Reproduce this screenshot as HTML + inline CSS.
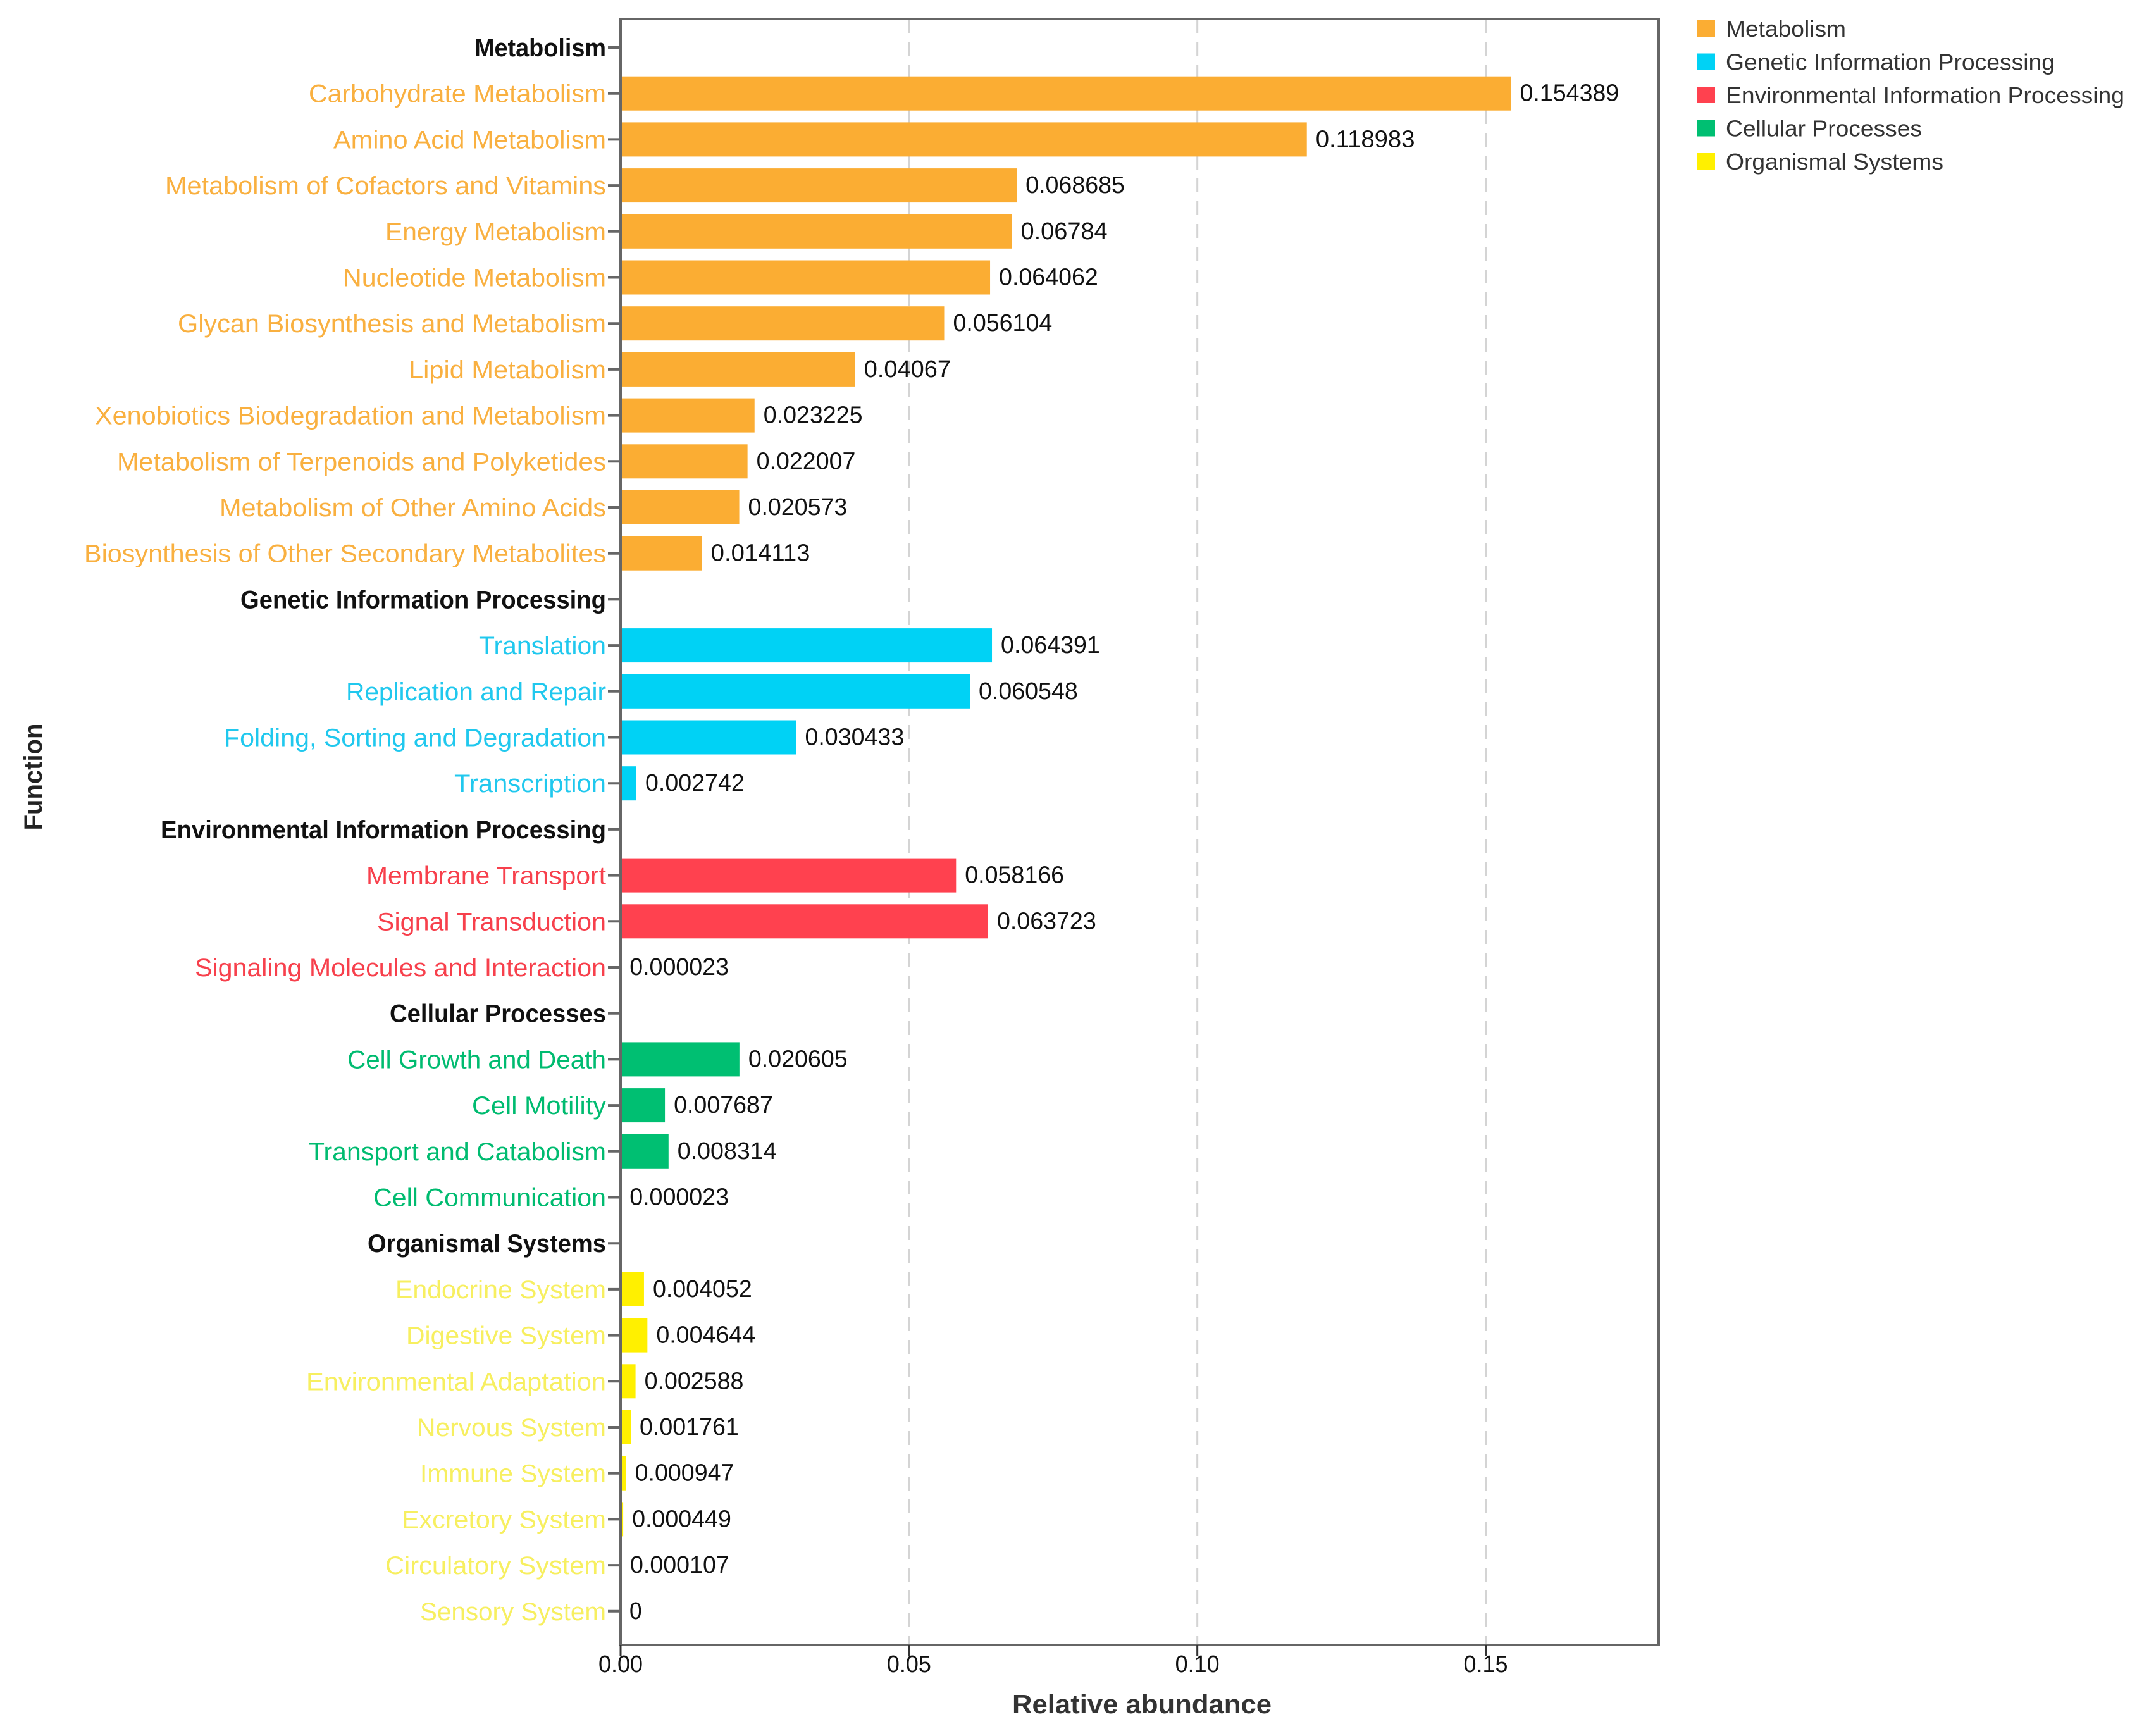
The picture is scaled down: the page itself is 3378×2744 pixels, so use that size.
<!DOCTYPE html>
<html><head><meta charset="utf-8"><style>
html,body{margin:0;padding:0;background:#fff;}
svg{display:block;}
</style></head><body>
<svg id="chart" width="3378" height="2744" viewBox="0 0 3378 2744" xmlns="http://www.w3.org/2000/svg">
<g id="grid"></g>
<g id="bars"></g>
<g id="ylabels"></g>
<g id="vals"></g>
<g id="xaxis"></g>
<g id="legend"></g>
<text transform="translate(66,1228) rotate(-90)" text-anchor="middle" font-family="Liberation Sans, sans-serif" font-weight="bold" font-size="40" fill="#222">Function</text>
<text x="1805" y="2708" text-anchor="middle" font-family="Liberation Sans, sans-serif" font-weight="bold" font-size="42" fill="#333" textLength="410" lengthAdjust="spacingAndGlyphs">Relative abundance</text>
</svg>
<script>
const categories = ["Metabolism","Carbohydrate Metabolism","Amino Acid Metabolism","Metabolism of Cofactors and Vitamins","Energy Metabolism","Nucleotide Metabolism","Glycan Biosynthesis and Metabolism","Lipid Metabolism","Xenobiotics Biodegradation and Metabolism","Metabolism of Terpenoids and Polyketides","Metabolism of Other Amino Acids","Biosynthesis of Other Secondary Metabolites","Genetic Information Processing","Translation","Replication and Repair","Folding, Sorting and Degradation","Transcription","Environmental Information Processing","Membrane Transport","Signal Transduction","Signaling Molecules and Interaction","Cellular Processes","Cell Growth and Death","Cell Motility","Transport and Catabolism","Cell Communication","Organismal Systems","Endocrine System","Digestive System","Environmental Adaptation","Nervous System","Immune System","Excretory System","Circulatory System","Sensory System"];
const values = [null,0.154389,0.118983,0.068685,0.06784,0.064062,0.056104,0.04067,0.023225,0.022007,0.020573,0.014113,null,0.064391,0.060548,0.030433,0.002742,null,0.058166,0.063723,0.000023,null,0.020605,0.007687,0.008314,0.000023,null,0.004052,0.004644,0.002588,0.001761,0.000947,0.000449,0.000107,0];
const groups = [0,0,0,0,0,0,0,0,0,0,0,0,1,1,1,1,1,2,2,2,2,3,3,3,3,3,4,4,4,4,4,4,4,4,4];
const groupNames = ["Metabolism","Genetic Information Processing","Environmental Information Processing","Cellular Processes","Organismal Systems"];
const xTicks = [0,0.05,0.10,0.15];
const xTickLabels = ["0.00","0.05","0.10","0.15"];

const barColors = ["#FBAD33","#00D2F5","#FF414F","#00BF72","#FFF000"];
const labelColors = ["#F9B040","#20C8EE","#F7404C","#00BB70","#F7EF60"];
const labelWidths = [208,470,431,697,349,416,677,312,808,773,611,825,578,201,411,604,240,704,379,362,650,342,409,212,470,368,377,333,316,474,299,294,323,349,294];
const legendWidths = [190,520,630,310,344];

const NS = "http://www.w3.org/2000/svg";
const L = 981, R = 2622, T = 30, B = 2600, XMAX = 0.18;
const x = v => L + (v / XMAX) * (R - L);
const y = i => 75 + i * 72.7;
const BH = 54;
function mk(tag, attrs, parent, txt){
  const e = document.createElementNS(NS, tag);
  for (const k in attrs) e.setAttribute(k, attrs[k]);
  if (txt !== undefined) e.textContent = txt;
  parent.appendChild(e); return e;
}
const FONT = "Liberation Sans, sans-serif";
const grid = document.getElementById('grid');
xTicks.forEach((t, i) => {
  if (t > 0) {
    const g = mk('line', {x1:x(t), x2:x(t), y1:T, y2:B, stroke:'#d4d4d4', 'stroke-width':3, 'stroke-dasharray':'22 14'}, grid);
    
    
  }
});
const bars = document.getElementById('bars');
const yl = document.getElementById('ylabels');
const vals = document.getElementById('vals');
categories.forEach((c, i) => {
  const cy = y(i);
  const header = values[i] === null;
  const tk = mk('line', {x1:961, x2:981, y1:cy, y2:cy, stroke:'#666', 'stroke-width':4}, yl);
  
  
  const lab = mk('text', {x:958, y:cy + 14, 'text-anchor':'end', 'font-family':FONT, 'font-size':40, 'font-weight': header ? 'bold' : 'normal', fill: header ? '#111' : labelColors[groups[i]], textLength:labelWidths[i], lengthAdjust:'spacingAndGlyphs'}, yl, c);
  
  
  if (!header) {
    const v = values[i];
    const w = x(v) - L;
    const b = mk('rect', {x:L, y:cy - BH/2, width:Math.max(w, 0), height:BH, fill:barColors[groups[i]]}, bars);
    
    
    const s = String(v < 0.0001 && v > 0 ? v.toFixed(6) : v);
    const t = mk('text', {x:x(v) + 14, y:cy + 12, 'font-family':FONT, 'font-size':38, fill:'#111', textLength: s.length * 19.6, lengthAdjust:'spacingAndGlyphs'}, vals, s);
    
    
  }
});
const xa = document.getElementById('xaxis');
const fr = mk('rect', {x:L, y:T, width:R - L, height:B - T, fill:'none', stroke:'#666', 'stroke-width':4}, xa);


xTicks.forEach((t, i) => {
  const tk = mk('line', {x1:x(t), x2:x(t), y1:B, y2:B + 18, stroke:'#333', 'stroke-width':3}, xa);
  
  
  const tl = mk('text', {x:x(t), y:2643, 'text-anchor':'middle', 'font-family':FONT, 'font-size':38, fill:'#111', textLength:70, lengthAdjust:'spacingAndGlyphs'}, xa, xTickLabels[i]);
  
  
});
const lg = document.getElementById('legend');
groupNames.forEach((g, i) => {
  const cy = 45 + i * 52.5;
  const sw = mk('rect', {x:2683, y:cy - 13, width:28, height:26, fill:barColors[i]}, lg);
  
  
  const lt = mk('text', {x:2728, y:cy + 13, 'font-family':FONT, 'font-size':36, fill:'#333', textLength:legendWidths[i], lengthAdjust:'spacingAndGlyphs'}, lg, g);
  
  
});
</script>
</body></html>
